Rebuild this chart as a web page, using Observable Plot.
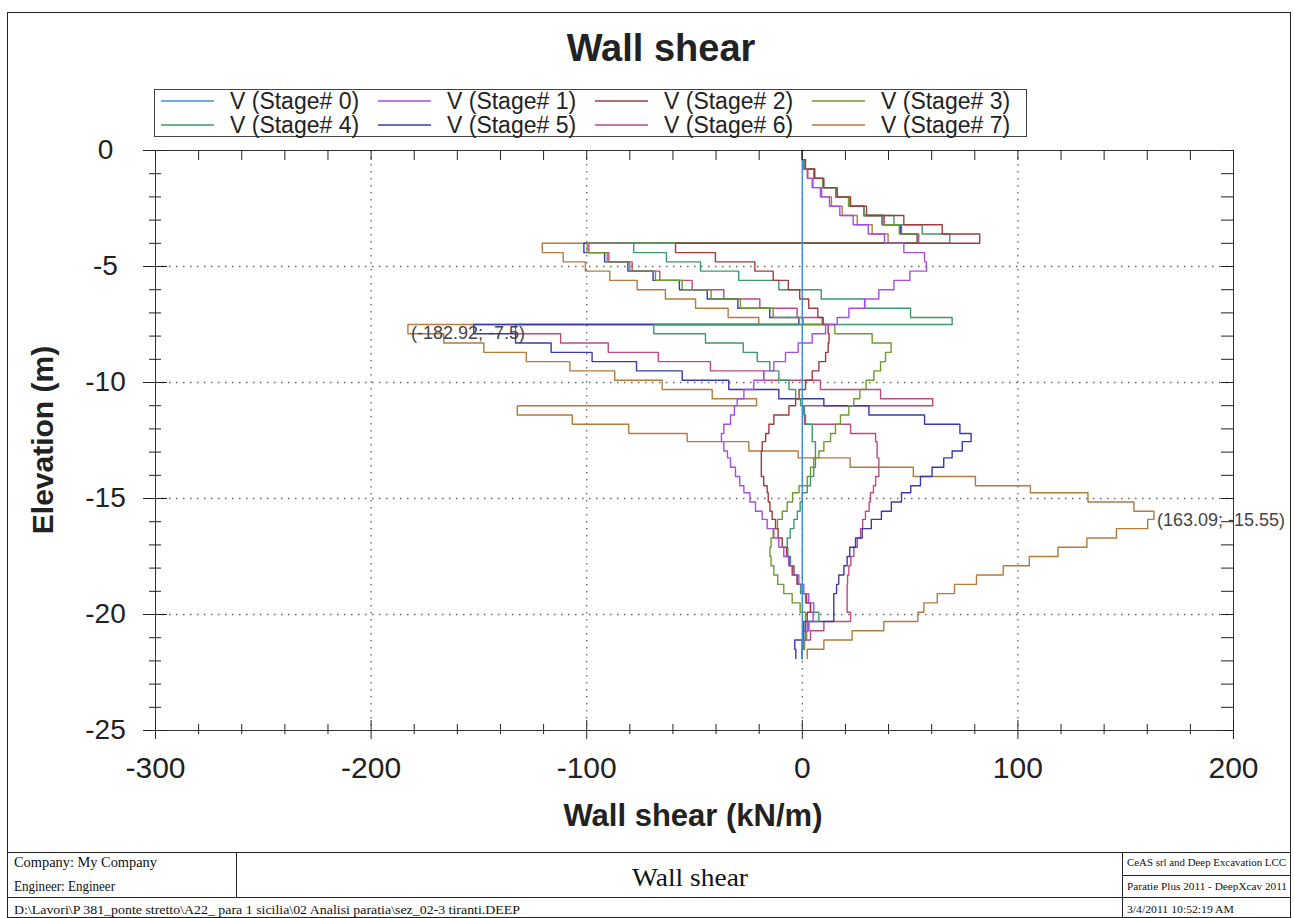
<!DOCTYPE html>
<html><head><meta charset="utf-8">
<script src="https://cdn.jsdelivr.net/npm/d3@7"></script>
<script src="https://cdn.jsdelivr.net/npm/@observablehq/plot@0.6"></script>
<style>
body{margin:0;background:#fff;}
#wrap{position:relative;width:1294px;height:918px;overflow:hidden;}
#wrap svg{position:absolute;left:0;top:0;}
</style></head><body><div id="wrap"></div>
<script>
// ---------- data ----------
const stageNames = ["V (Stage# 0)","V (Stage# 1)","V (Stage# 2)","V (Stage# 3)","V (Stage# 4)","V (Stage# 5)","V (Stage# 6)","V (Stage# 7)"];
const stageColors = ["#3b8fdc","#a64ce8","#a03c3c","#6b9b30","#3a9a6e","#3a3ab0","#c04a80","#b57a3c"];
// wall node elevations (m)
const elevations = [0,-0.4,-0.8,-1.2,-1.6,-2.0,-2.4,-2.8,-3.2,-3.6,-4.0,-4.4,-4.8,-5.2,-5.6,-6.0,-6.4,-6.8,-7.2,-7.5,-7.9,-8.3,-8.7,-9.1,-9.5,-9.9,-10.3,-10.7,-11.0,-11.4,-11.8,-12.2,-12.55,-12.95,-13.25,-13.65,-14.05,-14.45,-14.75,-15.15,-15.55,-15.9,-16.3,-16.7,-17.1,-17.5,-17.9,-18.3,-18.7,-19.1,-19.5,-19.9,-20.3,-20.7,-21.1,-21.5,-21.9];
// shear per element (kN/m), element i spans elevations[i]..elevations[i+1]
const stage0 = [0,0,0,0,0,0,0,0,0,0, 0,0,0,0,0,0,0,0,0, 0,0,0,0,0,0,0,0,0, 0,0,0,0,0,0,0,0,0,0, 0,0,0,0,0,0,0,0,0,0, 0,0,0,0,0,0,0,0];
const stage1 = [0,0.3,2.3,4.6,8.4,12.6,17.4,23.6,30.6,38.1, 47.1,56.7,57.6,49.9,42.5,35.5,28.9,21.6,16.2, 10.8,4.6,-1.9,-7.8,-13.2,-17.9,-22.5,-27.1,-30.2, -31.5,-33.3,-36.4,-37.5,-36.4,-34.7,-33.3,-31,-29,-27.1, -24.3,-21.7,-18.6,-16.3,-13.2,-10.9,-8.6,-6.3,-3.9,-1.6, 0.7,3,5.3,5,3,1.5,0.5,0];
const stage2 = [0,1.5,5.8,10,16.2,22.4,29.8,47.1,64.9,82.3, -58.8,-40.3,-22,-13.5,-6.5,-1.2,3,7.2,9.7, 12,12.4,12,10.8,7.7,4.6,1.5,-1.5,-3.1, -6.2,-13.2,-15.5,-17,-18.6,-19,-19,-19,-17.9,-16.3, -15.8,-15,-14,-12.4,-11.2,-9.3,-7.3,-6,-4.7,-2.4, 0,2,3.8,2.3,1.5,0.5,0,0];
const stage3 = [0,1.3,5.5,9.6,15.5,21.5,28.5,37.5,45,53.3, -99.8,-90.5,-80,-68.1,-55.7,-42.3,-28.7,-13.5,0.4, 15.1,32.4,41.2,38.6,36.3,33.2,29.6,26.7,23.9, 21.6,17.7,15.4,13.1,10,7.7,5.3,3.8,2.3,-1.5, -4.5,-7,-9.3,-11.5,-13.5,-14.5,-15,-14.5,-13.2,-11.4, -8.6,-4.7,-1,1.5,3,2,1,0];
const stage4 = [0,1.3,5.5,9.6,15.5,21.5,28.5,42.5,55.6,68.4, -78.2,-63,-47.2,-29.5,-10.9,8.8,29,50.2,69.5, -68.9,-44.9,-27.4,-20.9,-15.1,-10.9,-6.2,-3.1,-0.8, 1,1.5,4.6,4.6,6.1,6.1,6.1,5.3,3.8,2.3, 0,-1,-2.3,-3.9,-5.6,-7,-6.7,-5.5,-3.9,-2.4, -0.8,1.5,3.8,7.7,2.3,0.7,0,0];
const stage5 = [0,1.3,5.5,9.6,15.5,21.5,28.5,37,45.5,53.3, -101.3,-91.7,-80.9,-69.2,-57,-44.1,-29.9,-15.1,-1.6, -152.4,-133,-116.5,-97.5,-76.9,-55.7,-34.1,-10.9,10, 30.9,56.7,73.1,78.3,74.2,69.5,65.6,60.2,54.8,50.3, 46,41.3,36.7,32,27.8,24.7,22,20.8,19.3,16.9, 15.9,14.6,14.6,14.6,0.7,0.5,-3.5,-3];
const stage6 = [0,1.3,5.5,9.6,15.5,21.5,28.5,38,46,54, -99,-89.7,-78.9,-66.1,-51.1,-36.4,-19.7,-2.4,9.2, -133,-112.1,-90,-66.8,-42.6,-17.9,8.4,36.3,60.5, 0.7,1,22.4,34,34.7,34.7,35.5,35.5,34,33, 31.6,31,29.3,28,27,25.5,23.9,22.5,21.6,21, 20.8,20.8,20.8,22.4,10,3.8,1,0];
const stage7 = [0,0.5,2.6,5,9,13.5,18.5,25.5,32.4,39.8, -120.6,-110.9,-100.6,-89.3,-76.6,-63.5,-49.5,-34.4,-20.2, -182.92,-166.3,-147.7,-128,-107.8,-87,-65,-41.8,-21.2, -132.2,-106.7,-80.5,-53.4,-24.8,-1.9,22.2,51.5,80.3,105.8, 132.5,153.8,163.09,160.2,145.7,132,118.6,105.3,93.2,80.8, 70.6,62.6,56.4,53.6,37.8,23.1,10,2.3];
const stageValues = [stage0,stage1,stage2,stage3,stage4,stage5,stage6,stage7];
// axis ticks
const xTickValues = [-300,-200,-100,0,100,200];
const xMinorValues = [-280,-260,-240,-220,-180,-160,-140,-120,-80,-60,-40,-20,20,40,60,80,120,140,160,180];
const yTickValues = [0,-5,-10,-15,-20,-25];
const yMinorValues = [-1,-2,-3,-4,-6,-7,-8,-9,-11,-12,-13,-14,-16,-17,-18,-19,-21,-22,-23,-24];
const xGridValues = [-200,-100,0,100];
const yGridValues = [-5,-10,-15,-20];
const notes = [{v:-182.92, z:-7.5, label:"(-182.92; -7.5)"},{v:163.09, z:-15.55, label:"(163.09; -15.55)"}];

// ---------- build rows ----------
function rowsFor(s){
  const vals = stageValues[s];
  const r = vals.map((v,i)=>({v, z: elevations[i]}));
  r.push({v: vals[vals.length-1], z: elevations[vals.length]});
  return r;
}
const drawOrder = [7,6,5,4,3,2,1,0];
const lineMarks = drawOrder.map(s => Plot.line(rowsFor(s), {x:"v", y:"z", stroke: stageColors[s], strokeWidth: 1.4, curve:"step-before"}));

const chart = Plot.plot({
  width: 1294, height: 918,
  marginLeft: 155, marginRight: 61, marginTop: 150, marginBottom: 188,
  x: {domain: [-300, 200], label: null},
  y: {domain: [-25, 0], label: null},
  style: {fontFamily: '"Liberation Sans", Arial, sans-serif', color: "#222", background: "transparent"},
  marks: [
    Plot.ruleX(xGridValues, {stroke: "#666", strokeDasharray: "1.5,5.5", strokeWidth: 1.3}),
    Plot.ruleY(yGridValues, {stroke: "#666", strokeDasharray: "1.5,5.5", strokeWidth: 1.3}),
    ...lineMarks,
    Plot.frame({stroke: "#333"}),
    Plot.tickX(xTickValues, {insetTop: 561, dy: 9, stroke: "#222"}),
    Plot.tickX(xMinorValues, {insetTop: 570, dy: 4, stroke: "#222"}),
    Plot.tickX(xTickValues.concat(xMinorValues), {insetBottom: 570, stroke: "#222"}),
    Plot.tickY(yTickValues, {insetRight: 1054, dx: -12, stroke: "#222"}),
    Plot.tickY(yMinorValues, {insetRight: 1066, dx: -6, stroke: "#222"}),
    Plot.tickY(yTickValues.concat(yMinorValues), {insetLeft: 1066, stroke: "#222"}),
    Plot.axisX(xTickValues, {tickSize: 0, tickPadding: 26, fontSize: 30, tickFormat: d => String(d), label: null}),
    Plot.axisY(yTickValues, {tickSize: 0, tickPadding: 50, textAnchor: "middle", fontSize: 28, tickFormat: d => String(d), label: null}),
    Plot.text(notes, {x: "v", y: "z", text: "label", textAnchor: "start", dx: 3, dy: 9, fontSize: 18, fill: "#444"})
  ]
});
document.getElementById("wrap").appendChild(chart);

// ---------- overlay: title, legend, axis titles, frame, footer ----------
const ov = d3.select("#wrap").append("svg").attr("width",1294).attr("height",918).style("pointer-events","none");
const sans = '"Liberation Sans", Arial, sans-serif';
const serif = '"Liberation Serif", "Times New Roman", serif';
ov.append("rect").attr("x",7.5).attr("y",12.5).attr("width",1283).attr("height",905).attr("fill","none").attr("stroke","#222");
ov.append("text").attr("x",661).attr("y",48).attr("text-anchor","middle").attr("dominant-baseline","central")
  .attr("font-family",sans).attr("font-weight","bold").attr("font-size",38).attr("fill","#222").text("Wall shear");
ov.append("text").attr("x",693).attr("y",815).attr("text-anchor","middle").attr("dominant-baseline","central")
  .attr("font-family",sans).attr("font-weight","bold").attr("font-size",31).attr("fill","#222").text("Wall shear (kN/m)");
ov.append("text").attr("transform","translate(42,440) rotate(-90)").attr("text-anchor","middle").attr("dominant-baseline","central")
  .attr("font-family",sans).attr("font-weight","bold").attr("font-size",30).attr("fill","#222").text("Elevation (m)");
// legend
ov.append("rect").attr("x",154.5).attr("y",89.5).attr("width",872).attr("height",47).attr("fill","#fff").attr("stroke","#444");
stageNames.forEach((name,i)=>{
  const col = i%4, row = Math.floor(i/4);
  const x0 = 161 + col*217, y0 = 101 + row*24;
  ov.append("line").attr("x1",x0).attr("x2",x0+53).attr("y1",y0).attr("y2",y0).attr("stroke",stageColors[i]).attr("stroke-width",1.6);
  ov.append("text").attr("x",x0+69).attr("y",y0).attr("dominant-baseline","central").attr("font-family",sans).attr("font-size",23).attr("fill","#222").text(name);
});
// footer table
const L = (x1,y1,x2,y2)=>ov.append("line").attr("x1",x1).attr("y1",y1).attr("x2",x2).attr("y2",y2).attr("stroke","#222");
L(7,852.5,1291,852.5); L(7,897.5,1291,897.5); L(1122,875.5,1291,875.5);
L(236.5,852,236.5,898); L(1122.5,852,1122.5,918);
const T = (x,y,s,size,len,anchor)=>{const t=ov.append("text").attr("x",x).attr("y",y).attr("font-family",serif).attr("font-size",size).attr("fill","#111").attr("text-anchor",anchor||"start").text(s); if(len){t.attr("textLength",len).attr("lengthAdjust","spacingAndGlyphs");} return t;};
T(14,867,"Company: My Company",14,143);
T(14,891,"Engineer: Engineer",14,101);
T(690,886,"Wall shear",26,116,"middle");
T(14,914,"D:\\Lavori\\P 381_ponte stretto\\A22_ para 1 sicilia\\02 Analisi paratia\\sez_02-3 tiranti.DEEP",13.5,506);
T(1127,866,"CeAS srl and Deep Excavation LCC",11,159);
T(1127,890,"Paratie Plus 2011 - DeepXcav 2011",11,160);
T(1127,913,"3/4/2011 10:52:19 AM",11,107);
</script></body></html>
